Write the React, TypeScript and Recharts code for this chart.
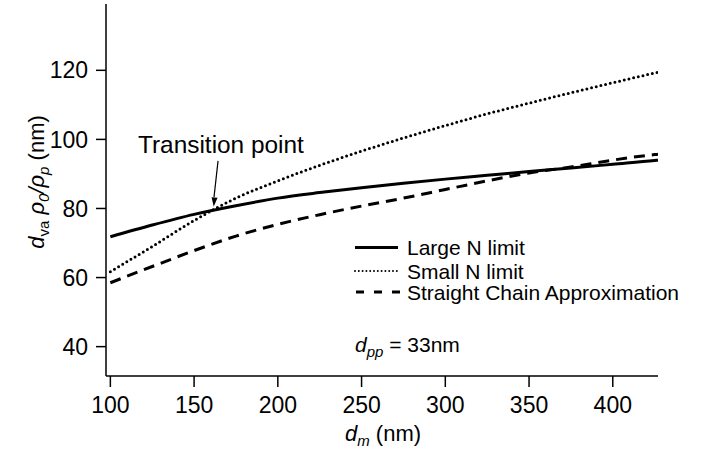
import { LineChart, Line, XAxis, YAxis, ReferenceLine, ReferenceDot, Customized } from 'recharts';

// d_m (nm) sample points
const dm = [100, 125, 150, 175, 200, 225, 250, 275, 300, 325, 350, 375, 400, 425, 427];
const largeN = [71.8, 75.2, 78.3, 80.8, 83.0, 84.6, 86.0, 87.3, 88.5, 89.6, 90.7, 91.7, 92.8, 93.9, 94.0];
const smallN = [61.7, 69.0, 76.5, 83.0, 88.0, 92.5, 96.6, 100.4, 104.0, 107.4, 110.5, 113.5, 116.4, 119.2, 119.4];
const straightChain = [58.5, 63.2, 67.8, 72.0, 75.4, 78.2, 80.7, 83.0, 85.5, 88.0, 90.3, 92.0, 94.0, 95.6, 95.7];

const xTicks = [100, 150, 200, 250, 300, 350, 400];
const yTicks = [40, 60, 80, 100, 120];
const legendNames = ['Large N limit', 'Small N limit', 'Straight Chain Approximation'];

// transition point and arrow tail (data units)
const transition = { x: 161.7, y: 80.6 };
const arrowTail = { x: 164.3, y: 93.8 };

const data = dm.map((d, i) => ({
  dm: d,
  large: largeN[i],
  small: smallN[i],
  chain: straightChain[i],
}));

const FONT = '"Liberation Sans", Arial, sans-serif';

function ArrowHead(props: any) {
  const { cx, cy } = props;
  if (cx == null || cy == null) return null;
  const d = `M${cx},${cy} L${cx + 3.9},${cy - 8.7} L${cx - 2.1},${cy - 9.2} Z`;
  return <path d={d} fill="#000" stroke="none" />;
}

function Annotations() {
  const sub = 15;
  return (
    <g fontFamily={FONT} fill="#000">
      {/* y axis title */}
      <text transform="translate(44,182) rotate(-90)" textAnchor="middle" fontSize={22}>
        <tspan fontStyle="italic">d</tspan>
        <tspan fontSize={sub} dy={5}>va</tspan>
        <tspan dy={-5}>{'\u00A0'}</tspan>
        <tspan fontStyle="italic">ρ</tspan>
        <tspan fontSize={sub} dy={5} fontStyle="italic">0</tspan>
        <tspan dy={-5} fontStyle="italic">/ρ</tspan>
        <tspan fontSize={sub} dy={5} fontStyle="italic">p</tspan>
        <tspan dy={-5}>{'\u00A0(nm)'}</tspan>
      </text>

      {/* x axis title */}
      <text x={383} y={441} textAnchor="middle" fontSize={22}>
        <tspan fontStyle="italic">d</tspan>
        <tspan fontSize={sub} dy={5} fontStyle="italic">m</tspan>
        <tspan dy={-5}>{'\u00A0(nm)'}</tspan>
      </text>

      <text x={138} y={153} fontSize={24.4}>Transition point</text>

      {/* legend */}
      <line x1={355} x2={398} y1={247.5} y2={247.5} stroke="#000" strokeWidth={3} />
      <line x1={355} x2={398} y1={271} y2={271} stroke="#000" strokeWidth={2}
        strokeDasharray="0 3.8" strokeLinecap="round" />
      <line x1={356} x2={402} y1={292} y2={292} stroke="#000" strokeWidth={3} strokeDasharray="8 10" />
      <text x={407} y={255} fontSize={21}>{legendNames[0]}</text>
      <text x={407} y={278.5} fontSize={21}>{legendNames[1]}</text>
      <text x={407} y={299.5} fontSize={21}>{legendNames[2]}</text>

      <text x={355} y={352} fontSize={21}>
        <tspan fontStyle="italic">d</tspan>
        <tspan fontSize={sub} dy={5} fontStyle="italic">pp</tspan>
        <tspan dy={-5}>{'\u00A0= 33nm'}</tspan>
      </text>
    </g>
  );
}

export default function App() {
  return (
    <div style={{ position: 'absolute', left: 0, top: 0, width: 705, height: 452, background: '#fff', fontFamily: FONT }}>
      <LineChart width={705} height={452} data={data} margin={{ top: 4, right: 47, bottom: 0, left: 0 }}>
        <XAxis
          dataKey="dm"
          type="number"
          domain={[97.4, 427]}
          ticks={xTicks}
          allowDataOverflow
          height={76}
          stroke="#000"
          strokeWidth={1.5}
          tickSize={11}
          tickMargin={10}
          tick={{ fontSize: 23, fill: '#000', fontFamily: FONT }}
        />
        <YAxis
          type="number"
          domain={[31.5, 139.2]}
          ticks={yTicks}
          allowDataOverflow
          width={106}
          stroke="#000"
          strokeWidth={1.5}
          tickSize={10}
          tickMargin={8}
          tick={{ fontSize: 23, fill: '#000', fontFamily: FONT }}
        />
        <Line dataKey="large" type="monotone" stroke="#000" strokeWidth={3} dot={false} isAnimationActive={false} />
        <Line dataKey="small" type="monotone" stroke="#000" strokeWidth={3} strokeDasharray="0 4.8"
          strokeLinecap="round" dot={false} isAnimationActive={false} />
        <Line dataKey="chain" type="monotone" stroke="#000" strokeWidth={3} strokeDasharray="11 7"
          dot={false} isAnimationActive={false} />
        <ReferenceLine
          segment={[arrowTail, { x: 161.9, y: 83.3 }]}
          stroke="#000"
          strokeWidth={1.2}
        />
        <ReferenceDot x={transition.x} y={transition.y} r={3} shape={ArrowHead} />
        <Customized component={Annotations} />
      </LineChart>
    </div>
  );
}
